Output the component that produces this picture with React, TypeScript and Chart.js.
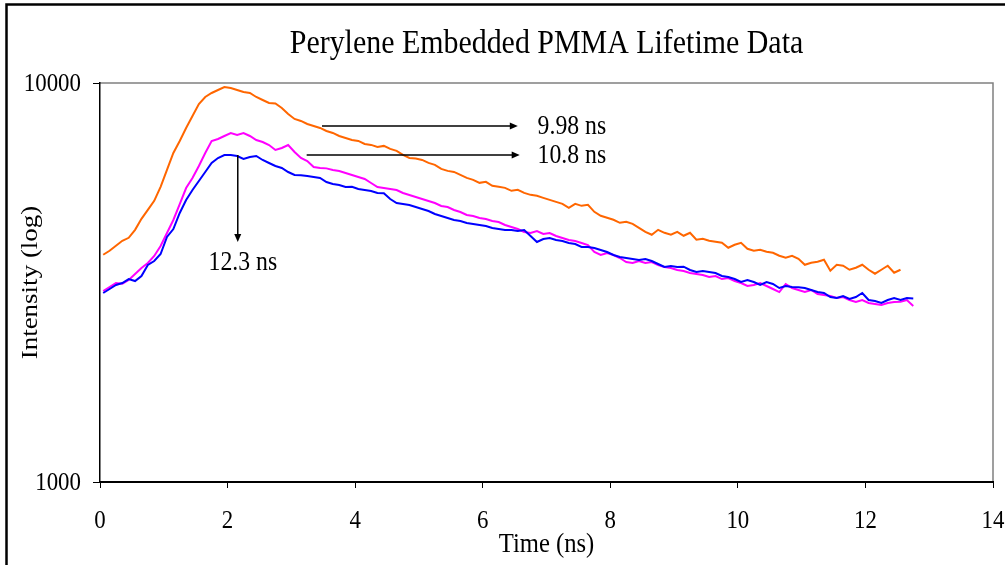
import React, { useEffect, useRef } from "react";
import { Chart, registerables } from "chart.js";

Chart.register(...registerables);

const TITLE = "Perylene Embedded PMMA Lifetime Data";
const X_TITLE = "Time (ns)";
const Y_TITLE = "Intensity (log)";
const Y_TICKS = [1000, 10000];

const TIME_NS = [
  0.05, 0.15, 0.25, 0.35, 0.45, 0.55, 0.65, 0.75, 0.85, 0.95,
  1.05, 1.15, 1.25, 1.35, 1.45, 1.55, 1.65, 1.75, 1.85, 1.95,
  2.05, 2.15, 2.25, 2.35, 2.45, 2.55, 2.65, 2.75, 2.85, 2.95,
  3.05, 3.15, 3.25, 3.35, 3.45, 3.55, 3.65, 3.75, 3.85, 3.95,
  4.05, 4.15, 4.25, 4.35, 4.45, 4.55, 4.65, 4.75, 4.85, 4.95,
  5.05, 5.15, 5.25, 5.35, 5.45, 5.55, 5.65, 5.75, 5.85, 5.95,
  6.05, 6.15, 6.25, 6.35, 6.45, 6.55, 6.65, 6.75, 6.85, 6.95,
  7.05, 7.15, 7.25, 7.35, 7.45, 7.55, 7.65, 7.75, 7.85, 7.95,
  8.05, 8.15, 8.25, 8.35, 8.45, 8.55, 8.65, 8.75, 8.85, 8.95,
  9.05, 9.15, 9.25, 9.35, 9.45, 9.55, 9.65, 9.75, 9.85, 9.95,
  10.05, 10.15, 10.25, 10.35, 10.45, 10.55, 10.65, 10.75, 10.85, 10.95,
  11.05, 11.15, 11.25, 11.35, 11.45, 11.55, 11.65, 11.75, 11.85, 11.95,
  12.05, 12.15, 12.25, 12.35, 12.45, 12.55, 12.65, 12.75,
];

const ORANGE_SERIES = [
  3711, 3798, 3909, 4023, 4093, 4286, 4567, 4810, 5066, 5492,
  6057, 6680, 7158, 7715, 8268, 8860, 9225, 9440, 9604, 9772,
  9716, 9604, 9494, 9440, 9225, 9066, 8911, 8890, 8658, 8364,
  8126, 8033, 7895, 7805, 7715, 7583, 7496, 7367, 7283, 7199,
  7158, 7036, 6996, 6916, 6956, 6836, 6758, 6603, 6490, 6470,
  6416, 6306, 6234, 6091, 6022, 5987, 5885, 5784, 5717, 5620,
  5652, 5524, 5492, 5460, 5367, 5398, 5305, 5244, 5214, 5154,
  5095, 5037, 4979, 4866, 4979, 4922, 4951, 4755, 4647, 4594,
  4541, 4463, 4489, 4437, 4336, 4237, 4165, 4286, 4213, 4165,
  4237, 4141, 4213, 4046, 4070, 4023, 4000, 3977, 3864, 3931,
  3977, 3842, 3798, 3820, 3776, 3754, 3690, 3647, 3690, 3626,
  3503, 3544, 3564, 3605, 3384, 3503, 3483, 3404, 3443, 3503,
  3404, 3327, 3404, 3483, 3346, 3404,
];

const MAGENTA_SERIES = [
  3011, 3081, 3153, 3140, 3208, 3321, 3438, 3539, 3685, 3904,
  4208, 4536, 4974, 5455, 5780, 6194, 6677, 7156, 7239, 7365,
  7494, 7408, 7494, 7365, 7197, 7115, 6992, 6793, 6872, 6992,
  6715, 6487, 6376, 6158, 6123, 6110, 6053, 6018, 5949, 5881,
  5813, 5747, 5615, 5487, 5455, 5424, 5393, 5300, 5239, 5179,
  5120, 5061, 5003, 4917, 4889, 4805, 4750, 4669, 4642, 4589,
  4562, 4510, 4484, 4407, 4356, 4306, 4233, 4208, 4257, 4184,
  4208, 4136, 4088, 4041, 4018, 3972, 3926, 3771, 3706, 3749,
  3706, 3642, 3559, 3539, 3580, 3539, 3559, 3498, 3458, 3438,
  3399, 3379, 3340, 3321, 3302, 3264, 3283, 3226, 3245, 3189,
  3153, 3099, 3117, 3153, 3099, 3046, 2993, 3135, 3063, 3028,
  2993, 3028, 2959, 2942, 2925, 2891, 2908, 2858, 2825, 2858,
  2809, 2793, 2777, 2809, 2825, 2830, 2858, 2761,
];

const BLUE_SERIES = [
  2976, 3046, 3117, 3153, 3226, 3189, 3283, 3498, 3580, 3727,
  4112, 4306, 4723, 5090, 5393, 5681, 5983, 6302, 6487, 6600,
  6600, 6562, 6450, 6525, 6562, 6413, 6302, 6194, 6123, 5983,
  5881, 5870, 5847, 5813, 5780, 5648, 5583, 5551, 5487, 5495,
  5424, 5393, 5362, 5300, 5290, 5120, 5003, 4974, 4946, 4889,
  4833, 4777, 4696, 4642, 4589, 4536, 4510, 4458, 4432, 4407,
  4381, 4331, 4306, 4282, 4282, 4257, 4282, 4136, 3995, 4065,
  4088, 4041, 4018, 3972, 3949, 3881, 3881, 3859, 3815, 3771,
  3706, 3664, 3642, 3621, 3601, 3621, 3580, 3519, 3458, 3478,
  3458, 3465, 3399, 3360, 3379, 3360, 3340, 3283, 3264, 3226,
  3171, 3208, 3171, 3117, 3171, 3135, 3063, 3099, 3081, 3075,
  3063, 3028, 2993, 2976, 2908, 2891, 2925, 2875, 2908, 2976,
  2858, 2842, 2809, 2858, 2891, 2858, 2891, 2885,
];

// Lifetime annotations, in data units (time ns, intensity)
const H_ARROWS = [
  { label: "9.98 ns", xFrom: 3.48, xTo: 6.55, y: 7800, textX: 6.86 },
  { label: "10.8 ns", xFrom: 3.24, xTo: 6.58, y: 6600, textX: 6.86 },
];
const V_ARROW = { label: "12.3 ns", x: 2.16, yFrom: 6600, yTo: 3995, textX: 2.24, textY: 3539 };

const FONT = "'Liberation Serif', 'Times New Roman', serif";
const SQUEEZE = 0.88;

function toPoints(values: number[]) {
  return values.map((v, i) => ({ x: TIME_NS[i], y: v }));
}

function drawText(
  ctx: CanvasRenderingContext2D,
  text: string,
  x: number,
  y: number,
  size: number,
  align: CanvasTextAlign,
  baseline: CanvasTextBaseline,
  rotated = false
) {
  ctx.save();
  ctx.translate(x, y);
  if (rotated) {
    ctx.rotate(-Math.PI / 2);
    ctx.scale(1, SQUEEZE);
  } else {
    ctx.scale(SQUEEZE, 1);
  }
  ctx.font = `${size}px ${FONT}`;
  ctx.textAlign = align;
  ctx.textBaseline = baseline;
  ctx.fillText(text, 0, 0);
  ctx.restore();
}

function arrowHead(ctx: CanvasRenderingContext2D, x: number, y: number, dir: "right" | "down") {
  ctx.beginPath();
  if (dir === "right") {
    ctx.moveTo(x, y);
    ctx.lineTo(x - 8, y - 3.5);
    ctx.lineTo(x - 8, y + 3.5);
  } else {
    ctx.moveTo(x, y);
    ctx.lineTo(x - 3.5, y - 8);
    ctx.lineTo(x + 3.5, y - 8);
  }
  ctx.closePath();
  ctx.fill();
}

const decorPlugin = {
  id: "decor",
  beforeDraw(chart: any) {
    const { ctx, chartArea } = chart;
    ctx.save();
    ctx.fillStyle = "#ffffff";
    ctx.fillRect(0, 0, chart.width, chart.height);
    // outer frame
    ctx.strokeStyle = "#000";
    ctx.lineWidth = 2.5;
    ctx.strokeRect(6.5, 4.5, 1200, 800);
    // gray plot frame (top/right)
    ctx.strokeStyle = "#808080";
    ctx.lineWidth = 1.5;
    ctx.beginPath();
    ctx.moveTo(chartArea.left, chartArea.top);
    ctx.lineTo(chartArea.right, chartArea.top);
    ctx.lineTo(chartArea.right, chartArea.bottom);
    ctx.stroke();
    ctx.restore();
  },
  afterDraw(chart: any) {
    const { ctx, chartArea, scales } = chart;
    const xs = scales.x;
    const ys = scales.y;
    ctx.save();
    ctx.fillStyle = "#000";
    ctx.strokeStyle = "#000";
    const cx = (chartArea.left + chartArea.right) / 2;
    // title
    drawText(ctx, TITLE, cx, 53, 34, "center", "alphabetic");
    // tick labels (from the library's ticks)
    for (const t of xs.ticks) {
      drawText(ctx, String(t.value), xs.getPixelForValue(t.value), 521, 26, "center", "middle");
    }
    for (const t of ys.ticks) {
      drawText(ctx, String(t.value), 81, ys.getPixelForValue(t.value) + 1, 26, "right", "middle");
    }
    // axis titles
    drawText(ctx, X_TITLE, cx, 545, 28, "center", "middle");
    drawText(ctx, Y_TITLE, 31, (chartArea.top + chartArea.bottom) / 2, 27, "center", "middle", true);

    // arrows
    ctx.lineWidth = 1.5;
    for (const a of H_ARROWS) {
      const x1 = xs.getPixelForValue(a.xFrom);
      const x2 = xs.getPixelForValue(a.xTo);
      const yy = ys.getPixelForValue(a.y);
      ctx.beginPath();
      ctx.moveTo(x1, yy);
      ctx.lineTo(x2 - 6, yy);
      ctx.stroke();
      arrowHead(ctx, x2, yy, "right");
      drawText(ctx, a.label, xs.getPixelForValue(a.textX), yy + 1, 27, "left", "middle");
    }
    const vx = xs.getPixelForValue(V_ARROW.x);
    const vy1 = ys.getPixelForValue(V_ARROW.yFrom);
    const vy2 = ys.getPixelForValue(V_ARROW.yTo);
    ctx.beginPath();
    ctx.moveTo(vx, vy1);
    ctx.lineTo(vx, vy2 - 6);
    ctx.stroke();
    arrowHead(ctx, vx, vy2, "down");
    drawText(
      ctx,
      V_ARROW.label,
      xs.getPixelForValue(V_ARROW.textX),
      ys.getPixelForValue(V_ARROW.textY),
      27,
      "center",
      "middle"
    );
    ctx.restore();
  },
};

export default function App() {
  const canvasRef = useRef<HTMLCanvasElement | null>(null);

  useEffect(() => {
    const canvas = canvasRef.current;
    if (!canvas) return;
    const chart = new Chart(canvas, {
      type: "line",
      data: {
        datasets: [
          {
            label: "Blue",
            data: toPoints(BLUE_SERIES),
            borderColor: "#0000FF",
            borderWidth: 2,
            pointRadius: 0,
            tension: 0,
            fill: false,
          },
          {
            label: "Magenta",
            data: toPoints(MAGENTA_SERIES),
            borderColor: "#FF00FF",
            borderWidth: 2,
            pointRadius: 0,
            tension: 0,
            fill: false,
          },
          {
            label: "Orange",
            data: toPoints(ORANGE_SERIES),
            borderColor: "#FF6600",
            borderWidth: 2,
            pointRadius: 0,
            tension: 0,
            fill: false,
          },
        ],
      },
      options: {
        responsive: false,
        animation: false,
        devicePixelRatio: 1,
        layout: { padding: { left: 0, right: 12, top: 83, bottom: 0 } },
        plugins: {
          legend: { display: false },
          title: { display: false },
          tooltip: { enabled: false },
        },
        scales: {
          x: {
            type: "linear",
            min: 0,
            max: 14,
            afterFit: (s: any) => {
              s.height = 83;
              s.paddingLeft = 0;
              s.paddingRight = 0;
            },
            ticks: {
              display: false,
              stepSize: 2,
              maxRotation: 0,
              autoSkip: false,
            },
            grid: {
              display: true,
              drawOnChartArea: false,
              drawTicks: true,
              tickLength: 6,
              color: "#000",
              lineWidth: 1,
            },
            border: { display: true, color: "#000", width: 2 },
          },
          y: {
            type: "logarithmic",
            min: 1000,
            max: 10000,
            afterFit: (s: any) => {
              s.width = 100;
              s.paddingTop = 0;
              s.paddingBottom = 0;
            },
            afterBuildTicks: (s: any) => {
              s.ticks = Y_TICKS.map((v) => ({ value: v, major: true }));
            },
            ticks: {
              display: false,
            },
            grid: {
              display: true,
              drawOnChartArea: false,
              drawTicks: true,
              tickLength: 7,
              color: "#000",
              lineWidth: 1,
            },
            border: { display: true, color: "#000", width: 1.5 },
          },
        },
      },
      plugins: [decorPlugin],
    });
    return () => chart.destroy();
  }, []);

  return (
    <div style={{ position: "absolute", left: 0, top: 0, width: 1005, height: 565, background: "#fff" }}>
      <canvas ref={canvasRef} width={1005} height={565} style={{ width: 1005, height: 565, display: "block" }} />
    </div>
  );
}
